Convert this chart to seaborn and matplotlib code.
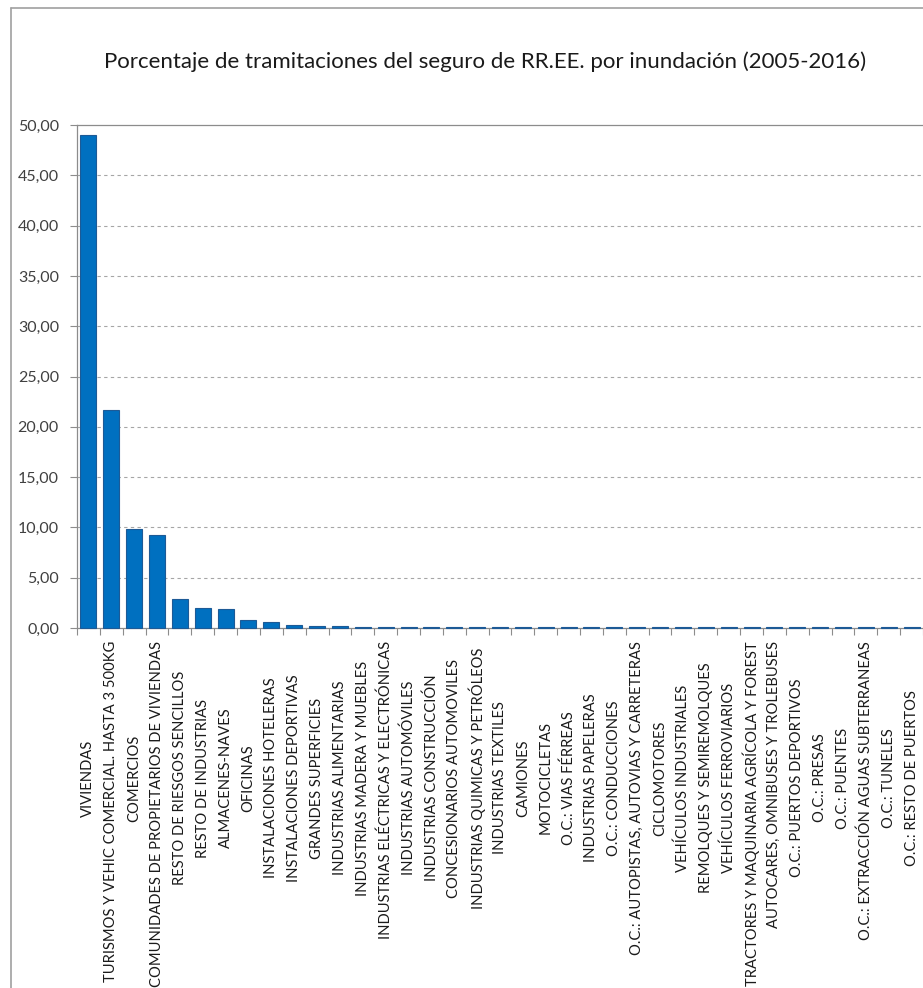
import matplotlib
matplotlib.use("Agg")
import matplotlib.pyplot as plt
from matplotlib.lines import Line2D
from matplotlib.ticker import FuncFormatter, FixedLocator
import seaborn as sns
import pandas as pd
import numpy as np

categorias = [
    "VIVIENDAS",
    "TURISMOS Y VEHIC COMERCIAL. HASTA 3 500KG",
    "COMERCIOS",
    "COMUNIDADES DE PROPIETARIOS DE VIVIENDAS",
    "RESTO DE RIESGOS SENCILLOS",
    "RESTO DE INDUSTRIAS",
    "ALMACENES-NAVES",
    "OFICINAS",
    "INSTALACIONES HOTELERAS",
    "INSTALACIONES DEPORTIVAS",
    "GRANDES SUPERFICIES",
    "INDUSTRIAS ALIMENTARIAS",
    "INDUSTRIAS MADERA Y MUEBLES",
    "INDUSTRIAS ELÉCTRICAS Y ELECTRÓNICAS",
    "INDUSTRIAS AUTOMÓVILES",
    "INDUSTRIAS CONSTRUCCIÓN",
    "CONCESIONARIOS AUTOMOVILES",
    "INDUSTRIAS QUIMICAS Y PETRÓLEOS",
    "INDUSTRIAS TEXTILES",
    "CAMIONES",
    "MOTOCICLETAS",
    "O.C.: VIAS FÉRREAS",
    "INDUSTRIAS PAPELERAS",
    "O.C.: CONDUCCIONES",
    "O.C.: AUTOPISTAS, AUTOVIAS Y CARRETERAS",
    "CICLOMOTORES",
    "VEHÍCULOS INDUSTRIALES",
    "REMOLQUES Y SEMIREMOLQUES",
    "VEHÍCULOS FERROVIARIOS",
    "TRACTORES Y MAQUINARIA AGRÍCOLA Y FOREST",
    "AUTOCARES, OMNIBUSES Y TROLEBUSES",
    "O.C.: PUERTOS DEPORTIVOS",
    "O.C.: PRESAS",
    "O.C.: PUENTES",
    "O.C.: EXTRACCIÓN AGUAS SUBTERRANEAS",
    "O.C.: TUNELES",
    "O.C.: RESTO DE PUERTOS",
]

porcentajes = [
    49.0, 21.7, 9.8, 9.25, 2.85, 1.95, 1.9, 0.8, 0.58, 0.32,
    0.22, 0.16, 0.14, 0.13, 0.12, 0.11, 0.10, 0.10, 0.09, 0.09,
    0.09, 0.08, 0.08, 0.08, 0.08, 0.07, 0.07, 0.07, 0.07, 0.07,
    0.06, 0.06, 0.06, 0.06, 0.06, 0.06, 0.06,
]

y_ticks = [0, 5, 10, 15, 20, 25, 30, 35, 40, 45, 50]

titulo = "Porcentaje de tramitaciones del seguro de RR.EE. por inundación (2005-2016)"

df = pd.DataFrame({"categoria": categorias, "porcentaje": porcentajes})

sns.set_theme(style="white")
plt.rcParams["font.family"] = ["Lato", "DejaVu Sans"]

W, H = 923, 988
fig = plt.figure(figsize=(W / 100, H / 100), dpi=100)
fig.patch.set_facecolor("white")

# plot area in pixel terms
left_px, right_px, top_px, bottom_px = 77, 923, 125, 628
ax = fig.add_axes([left_px / W, 1 - bottom_px / H,
                   (right_px - left_px) / W, (bottom_px - top_px) / H])

sns.barplot(data=df, x="categoria", y="porcentaje", order=categorias,
            color="#0070C0", saturation=1, width=0.7,
            edgecolor="#1D5A96", linewidth=0.8, ax=ax, zorder=3)
for p in ax.patches:
    p.set_zorder(3)
    p.set_clip_on(False)

n = len(categorias)
ax.set_xlim(-0.5, n - 0.5)
ax.set_ylim(0, 50)
ax.set_xlabel("")
ax.set_ylabel("")

# y axis
ax.yaxis.set_major_locator(FixedLocator(y_ticks))
ax.yaxis.set_major_formatter(FuncFormatter(lambda v, p: f"{v:.2f}".replace(".", ",")))
ax.tick_params(axis="y", which="major", direction="out", length=5, width=0.8,
               color="#8C8C8C", labelsize=11.5, labelcolor="#404040", pad=8, left=True)
for yv in y_ticks[1:-1]:
    ax.axhline(yv, color="#A6A6A6", linestyle=(0, (3, 3)), linewidth=0.8, zorder=0)

# x axis: ticks between categories, labels drawn separately
ax.set_xticks(np.arange(n))
ax.set_xticklabels([])
ax.tick_params(axis="x", which="major", length=0)
ax.xaxis.set_minor_locator(FixedLocator(np.arange(n + 1) - 0.5))
ax.tick_params(axis="x", which="minor", direction="out", length=5, width=0.8,
               color="#8C8C8C", bottom=True)

for side in ["left", "bottom", "top"]:
    ax.spines[side].set_visible(True)
    ax.spines[side].set_color("#8C8C8C")
    ax.spines[side].set_linewidth(0.9)
    ax.spines[side].set_zorder(2)
ax.spines["right"].set_visible(False)

# rotated category labels, centred below the axis
center_px = 778
top_limit_px = 641
y_center_ax = (bottom_px - center_px) / (bottom_px - top_px)
labels = []
for i, cat in enumerate(categorias):
    t = ax.text(i, y_center_ax, cat, transform=ax.get_xaxis_transform(),
                rotation=90, ha="center", va="center", fontsize=10.6,
                color="#1A1A1A")
    labels.append(t)

fig.canvas.draw()
renderer = fig.canvas.get_renderer()
for t in labels:
    bb = t.get_window_extent(renderer)
    top_from_top = H - bb.y1
    if top_from_top < top_limit_px:
        shift_px = top_limit_px - top_from_top
        new_center = center_px + shift_px
        t.set_y((bottom_px - new_center) / (bottom_px - top_px))

fig.text(0.525, 1 - 62 / H, titulo, ha="center", va="center",
         fontsize=16, color="#1A1A1A")

# chart frame
fig.add_artist(Line2D([11 / W, 11 / W], [0, 1 - 8 / H], transform=fig.transFigure,
                      color="#A0A0A0", linewidth=1.2))
fig.add_artist(Line2D([11 / W, 1], [1 - 8 / H, 1 - 8 / H], transform=fig.transFigure,
                      color="#A0A0A0", linewidth=1.2))

fig.savefig("out.png", dpi=100)
